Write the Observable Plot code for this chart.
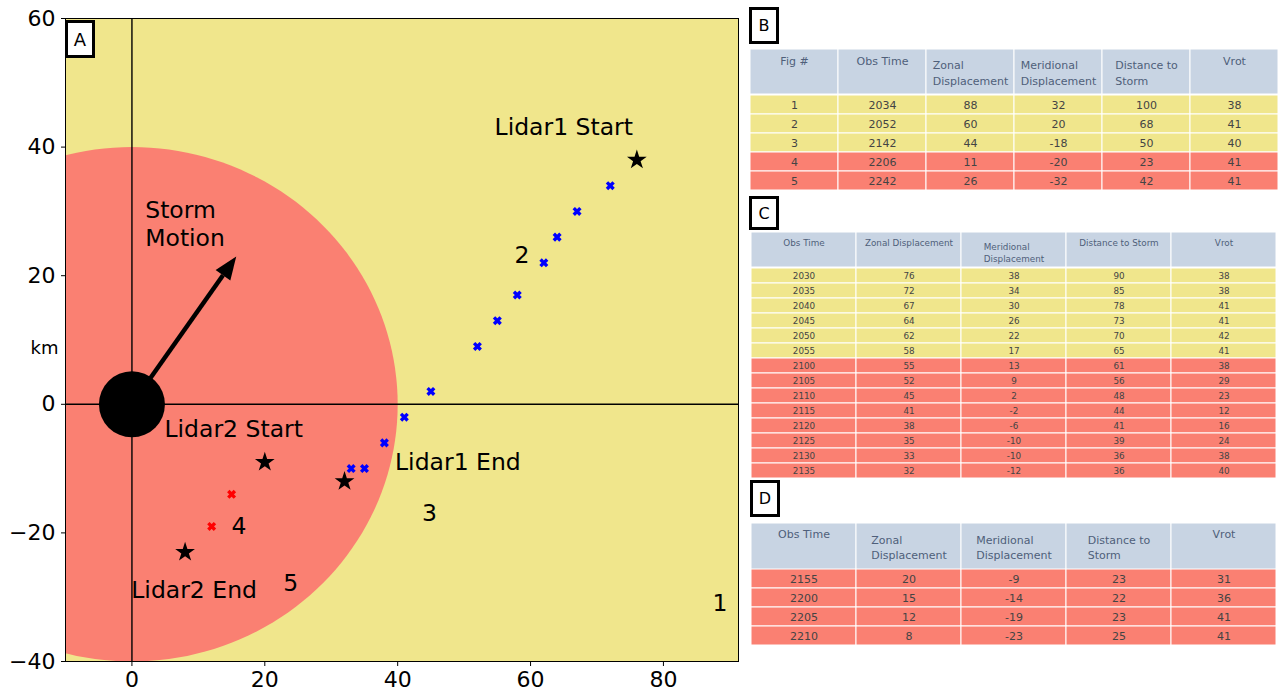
<!DOCTYPE html>
<html>
<head>
<meta charset="utf-8">
<script src="https://cdn.jsdelivr.net/npm/d3@7"></script>
<script src="https://cdn.jsdelivr.net/npm/@observablehq/plot@0.6"></script>
<style>
  html, body { margin: 0; padding: 0; background: #fff; }
  body { width: 1281px; height: 696px; position: relative; overflow: hidden; font-family: "DejaVu Sans", sans-serif; }
  .panel { position: absolute; }
  .tag { position: absolute; box-sizing: border-box; border: 3px solid #000; background: #fff;
         font-family: "DejaVu Sans", sans-serif; display: flex; align-items: center; justify-content: center; color: #000; }
</style>
</head>
<body>
<div id="map" class="panel" style="left:0;top:0"></div>
<div class="tag" style="left:65px;top:20px;width:30px;height:38px;font-size:18px">A</div>

<div class="tag" style="left:749px;top:7px;width:30px;height:37px;font-size:16px">B</div>
<div id="tabB-head" class="panel" style="left:749px;top:49px"></div>
<div id="tabB-body" class="panel" style="left:749px;top:94px"></div>

<div class="tag" style="left:749px;top:196px;width:30px;height:34px;font-size:16px">C</div>
<div id="tabC-head" class="panel" style="left:749px;top:232px"></div>
<div id="tabC-body" class="panel" style="left:749px;top:267px"></div>

<div class="tag" style="left:750px;top:480px;width:30px;height:37px;font-size:16px">D</div>
<div id="tabD-head" class="panel" style="left:749px;top:523px"></div>
<div id="tabD-body" class="panel" style="left:749px;top:569px"></div>

<script>
// ---- Table B: figure summary ----
const figNum    = [1, 2, 3, 4, 5];
const bObsTime  = [2034, 2052, 2142, 2206, 2242];
const bZonal    = [88, 60, 44, 11, 26];
const bMerid    = [32, 20, -18, -20, -32];
const bDist     = [100, 68, 50, 23, 42];
const bVrot     = [38, 41, 40, 41, 41];
const bShade    = ["far", "far", "far", "near", "near"];

// ---- Table C: Lidar1 track ----
const cObsTime  = [2030, 2035, 2040, 2045, 2050, 2055, 2100, 2105, 2110, 2115, 2120, 2125, 2130, 2135];
const cZonal    = [76, 72, 67, 64, 62, 58, 55, 52, 45, 41, 38, 35, 33, 32];
const cMerid    = [38, 34, 30, 26, 22, 17, 13, 9, 2, -2, -6, -10, -10, -12];
const cDist     = [90, 85, 78, 73, 70, 65, 61, 56, 48, 44, 41, 39, 36, 36];
const cVrot     = [38, 38, 41, 41, 42, 41, 38, 29, 23, 12, 16, 24, 38, 40];
const cShade    = ["far", "far", "far", "far", "far", "far",
                   "near", "near", "near", "near", "near", "near", "near", "near"];

// ---- Table D: Lidar2 track ----
const dObsTime  = [2155, 2200, 2205, 2210];
const dZonal    = [20, 15, 12, 8];
const dMerid    = [-9, -14, -19, -23];
const dDist     = [23, 22, 23, 25];
const dVrot     = [31, 36, 41, 41];
const dShade    = ["near", "near", "near", "near"];

// ---- Map annotations ----
const stormRadius = 40;               // km
const stormMotion = [15.7, 23];       // arrow tip, km
const figLabelX = [88.5, 58.7, 44.8, 16.1, 23.9];
const figLabelY = [-30.9, 23.2, -17.0, -19.0, -27.8];
const startLabels = [
  {text: "Lidar1 End",   x: 39.6, y: -9.0},
  {text: "Lidar2 Start", x: 4.9,  y: -3.9},
  {text: "Lidar2 End",   x: -0.1, y: -28.9}
];
const centerLabels = [{text: "Lidar1 Start", x: 65.0, y: 43.1}];
const motionLabel = [{text: "Storm\nMotion", x: 2.0, y: 28.2}];

const FONT = "DejaVu Sans";
const KHAKI = "#F0E68C", SALMON = "#FA8072";
const SHADE = {far: KHAKI, near: SALMON};
const HEAD_FILL = "#C8D4E3", HEAD_INK = "#4f5f7a", CELL_INK = "#444";

// ---- Map panel ----
const W = 745, H = 696, mL = 65, mR = 7, mT = 18, mB = 35;
const xDomain = [-10, 91.3], yDomain = [-40, 60];
const kx = (W - mL - mR) / (xDomain[1] - xDomain[0]);   // px per km
const ky = (H - mT - mB) / (yDomain[1] - yDomain[0]);

const circle = d3.range(0, 361, 2).map(a => ({
  x: stormRadius * Math.cos(a * Math.PI / 180),
  y: stormRadius * Math.sin(a * Math.PI / 180)
}));

// filled arrowhead built in screen proportions
const [tx, ty] = stormMotion;
const px = tx * kx, py = ty * ky, plen = Math.hypot(px, py);
const ux = px / plen, uy = py / plen;
const headLen = 23, headHalf = 9;
const bx = tx - headLen * ux / kx, by = ty - headLen * uy / ky;
const head = [
  {x: tx, y: ty},
  {x: bx - headHalf * uy / kx, y: by + headHalf * ux / ky},
  {x: bx + headHalf * uy / kx, y: by - headHalf * ux / ky},
  {x: tx, y: ty}
];

const lidar1 = cZonal.map((x, i) => ({x, y: cMerid[i], t: cObsTime[i]}));
const lidar2 = dZonal.map((x, i) => ({x, y: dMerid[i], t: dObsTime[i]}));
const ends = [lidar1[0], lidar1[lidar1.length - 1], lidar2[0], lidar2[lidar2.length - 1]];
const figLabels = figNum.map((n, i) => ({n: String(n), x: figLabelX[i], y: figLabelY[i]}));

const map = Plot.plot({
  width: W, height: H,
  marginLeft: mL, marginRight: mR, marginTop: mT, marginBottom: mB,
  style: {fontFamily: FONT, fontSize: "22px", color: "#000", background: "transparent"},
  x: {domain: xDomain, ticks: [0, 20, 40, 60, 80], tickSize: 5, tickPadding: 5, label: null},
  y: {domain: yDomain, ticks: [-40, -20, 0, 20, 40, 60], tickSize: 4, tickPadding: 6, label: null},
  marks: [
    Plot.frame({fill: KHAKI, stroke: "none"}),
    Plot.line(circle, {x: "x", y: "y", fill: SALMON, stroke: "none", clip: true}),
    Plot.ruleY([0], {stroke: "#000", strokeWidth: 1.4}),
    Plot.ruleX([0], {stroke: "#000", strokeWidth: 1.4}),
    Plot.link([{x1: 0, y1: 0, x2: bx, y2: by}], {x1: "x1", y1: "y1", x2: "x2", y2: "y2", stroke: "#000", strokeWidth: 4.5}),
    Plot.line(head, {x: "x", y: "y", fill: "#000", stroke: "none"}),
    Plot.dot([{x: 0, y: 0}], {x: "x", y: "y", r: 33, fill: "#000", stroke: "none"}),
    Plot.dot(lidar1.slice(1, -1), {x: "x", y: "y", symbol: "times", r: 3.1, stroke: "#0000ff", strokeWidth: 3.4}),
    Plot.dot(lidar2.slice(1, -1), {x: "x", y: "y", symbol: "times", r: 3.1, stroke: "#ff0000", strokeWidth: 3.4}),
    Plot.dot(ends, {x: "x", y: "y", symbol: "star", r: 6.2, fill: "#000", stroke: "none"}),
    Plot.text(centerLabels, {x: "x", y: "y", text: "text", fontSize: 23.5, fill: "#000"}),
    Plot.text(startLabels, {x: "x", y: "y", text: "text", textAnchor: "start", fontSize: 23.5, fill: "#000"}),
    Plot.text(motionLabel, {x: "x", y: "y", text: "text", textAnchor: "start", lineHeight: 1.17, fontSize: 23.5, fill: "#000"}),
    Plot.text(figLabels, {x: "x", y: "y", text: "n", fontSize: 23.5, fill: "#000"}),
    Plot.text(["km"], {frameAnchor: "left", text: d => d, dx: -35, dy: 8, fontSize: 18, fill: "#000"}),
    Plot.frame({stroke: "#000", strokeWidth: 1})
  ]
});
document.getElementById("map").append(map);

// ---- Tables ----
const ctx = document.createElement("canvas").getContext("2d");
function textWidth(s, size) {
  ctx.font = `${size}px "${FONT}"`;
  return ctx.measureText(s).width;
}

function drawTable(id, spec) {
  const {columns, values, shade, headH, rowH, fontSize, singleDy, multiDy, lineHeight} = spec;
  const width = 529;
  const n = shade.length;
  const xs = {type: "band", domain: columns, padding: 0, axis: null};

  const head = Plot.plot({
    width, height: headH, margin: 0, x: xs,
    style: {fontFamily: FONT, background: "transparent"},
    marks: [
      Plot.cell(columns, {x: d => d, fill: HEAD_FILL, stroke: "white", strokeWidth: 1}),
      ...columns.map(c => {
        const lines = c.split("\n");
        return lines.length === 1
          ? Plot.text([c], {x: d => d, text: d => d, frameAnchor: "top", lineAnchor: "middle",
              dy: singleDy, fontSize, fill: HEAD_INK})
          : Plot.text([c], {x: d => d, text: d => d, frameAnchor: "top", lineAnchor: "middle", textAnchor: "start",
              dx: -d3.max(lines, l => textWidth(l, fontSize)) / 2, dy: multiDy, lineHeight, fontSize, fill: HEAD_INK});
      })
    ]
  });

  const cells = [];
  for (let i = 0; i < n; ++i) {
    columns.forEach((c, j) => cells.push({col: c, row: i, value: String(values[j][i]), fill: SHADE[shade[i]]}));
  }
  const body = Plot.plot({
    width, height: Math.round(n * rowH), margin: 0, x: xs,
    y: {type: "band", domain: d3.range(n), padding: 0, axis: null},
    color: {type: "identity"},
    style: {fontFamily: FONT, background: "transparent"},
    marks: [
      Plot.cell(cells, {x: "col", y: "row", fill: "fill", stroke: "white", strokeWidth: 1}),
      Plot.text(cells, {x: "col", y: "row", text: "value", fontSize, fill: CELL_INK})
    ]
  });

  document.getElementById(id + "-head").append(head);
  document.getElementById(id + "-body").append(body);
}

drawTable("tabB", {
  columns: ["Fig #", "Obs Time", "Zonal\nDisplacement", "Meridional\nDisplacement", "Distance to\nStorm", "Vrot"],
  values: [figNum, bObsTime, bZonal, bMerid, bDist, bVrot],
  shade: bShade, headH: 45, rowH: 19.4, fontSize: 11, singleDy: 12, multiDy: 22.7, lineHeight: 1.4
});

drawTable("tabC", {
  columns: ["Obs Time", "Zonal Displacement", "Meridional\nDisplacement", "Distance to Storm", "Vrot"],
  values: [cObsTime, cZonal, cMerid, cDist, cVrot],
  shade: cShade, headH: 35, rowH: 15.07, fontSize: 8.8, singleDy: 11, multiDy: 19.6, lineHeight: 1.36
});

drawTable("tabD", {
  columns: ["Obs Time", "Zonal\nDisplacement", "Meridional\nDisplacement", "Distance to\nStorm", "Vrot"],
  values: [dObsTime, dZonal, dMerid, dDist, dVrot],
  shade: dShade, headH: 46, rowH: 19, fontSize: 11, singleDy: 11.4, multiDy: 22.9, lineHeight: 1.45
});
</script>
</body>
</html>
